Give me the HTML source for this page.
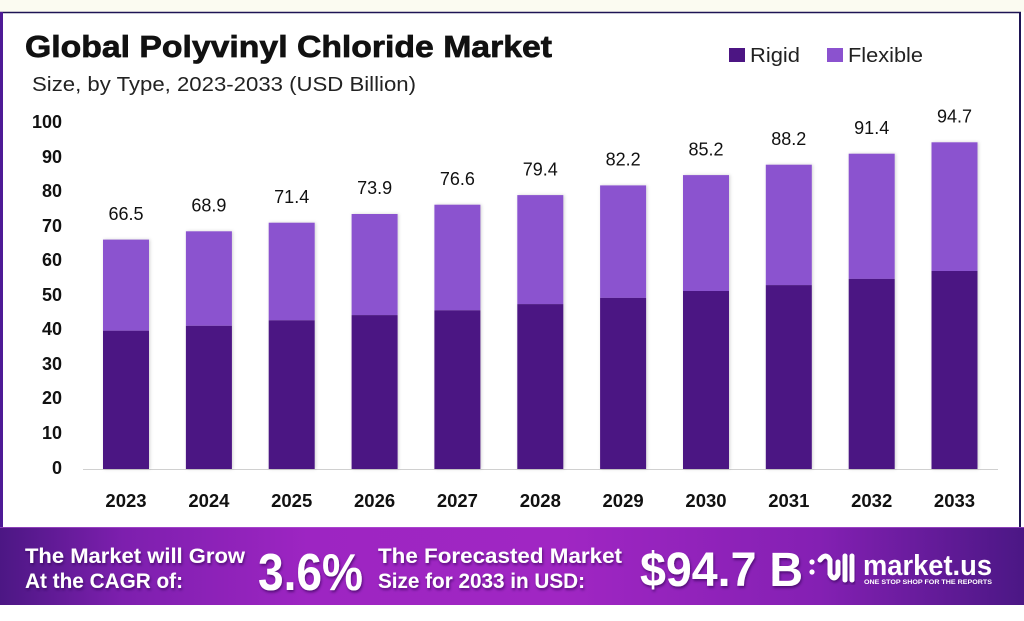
<!DOCTYPE html>
<html>
<head>
<meta charset="utf-8">
<style>
html,body{margin:0;padding:0;background:#fff;}
svg{display:block;}
text{font-family:"Liberation Sans",Arial,sans-serif;}
</style>
</head>
<body>
<svg width="1024" height="621" viewBox="0 0 1024 621" xmlns="http://www.w3.org/2000/svg">
<defs>
<linearGradient id="ban" x1="0" y1="0" x2="1" y2="0">
<stop offset="0" stop-color="#4c1784"/>
<stop offset="0.12" stop-color="#7d1fae"/>
<stop offset="0.3" stop-color="#9d25c2"/>
<stop offset="0.55" stop-color="#a026c3"/>
<stop offset="0.8" stop-color="#8420b3"/>
<stop offset="1" stop-color="#4b1785"/>
</linearGradient>
<filter id="sh" x="-10%" y="-10%" width="120%" height="130%">
<feDropShadow dx="1" dy="2" stdDeviation="1.2" flood-color="#2a0650" flood-opacity="0.6"/>
</filter>
<filter id="bs" x="-20%" y="-5%" width="140%" height="110%">
<feDropShadow dx="1" dy="0" stdDeviation="1.5" flood-color="#000" flood-opacity="0.18"/>
</filter>
</defs>

<rect x="0" y="0" width="1024" height="621" fill="#ffffff"/>
<rect x="0" y="0" width="1024" height="12" fill="#fbfbf1"/>
<line x1="0" y1="12.5" x2="1021" y2="12.5" stroke="#1e1454" stroke-width="1.5"/>
<rect x="0" y="12" width="3" height="516" fill="#4e1a96"/>
<rect x="1019" y="12" width="2" height="516" fill="#1e1454"/>

<text x="25" y="57" font-size="31" font-weight="bold" fill="#111" stroke="#111" stroke-width="0.7" textLength="527" lengthAdjust="spacingAndGlyphs">Global Polyvinyl Chloride Market</text>
<text x="32" y="91" font-size="20" fill="#222" textLength="384" lengthAdjust="spacingAndGlyphs">Size, by Type, 2023-2033 (USD Billion)</text>

<rect x="729" y="48" width="16" height="14" fill="#4c1583"/>
<text x="750" y="62" font-size="20" fill="#222" textLength="50" lengthAdjust="spacingAndGlyphs">Rigid</text>
<rect x="827" y="48" width="16" height="14" fill="#8b52cf"/>
<text x="848" y="62" font-size="20" fill="#222" textLength="75" lengthAdjust="spacingAndGlyphs">Flexible</text>

<g font-size="18" font-weight="bold" fill="#111" text-anchor="end">
<text x="62" y="128">100</text>
<text x="62" y="163">90</text>
<text x="62" y="197">80</text>
<text x="62" y="232">70</text>
<text x="62" y="266">60</text>
<text x="62" y="301">50</text>
<text x="62" y="335">40</text>
<text x="62" y="370">30</text>
<text x="62" y="404">20</text>
<text x="62" y="439">10</text>
<text x="62" y="474">0</text>
</g>

<line x1="83" y1="469.5" x2="998" y2="469.5" stroke="#d0d0d0" stroke-width="1"/>

<g filter="url(#bs)">
<rect x="103" y="239.6" width="46" height="91.1" fill="#8b52cf"/><rect x="103" y="330.7" width="46" height="138.3" fill="#4c1583"/>
<rect x="185.9" y="231.3" width="46" height="94.5" fill="#8b52cf"/><rect x="185.9" y="325.8" width="46" height="143.2" fill="#4c1583"/>
<rect x="268.7" y="222.7" width="46" height="97.6" fill="#8b52cf"/><rect x="268.7" y="320.3" width="46" height="148.7" fill="#4c1583"/>
<rect x="351.6" y="214.0" width="46" height="101.1" fill="#8b52cf"/><rect x="351.6" y="315.1" width="46" height="153.9" fill="#4c1583"/>
<rect x="434.4" y="204.7" width="46" height="105.6" fill="#8b52cf"/><rect x="434.4" y="310.3" width="46" height="158.7" fill="#4c1583"/>
<rect x="517.3" y="195.1" width="46" height="109.0" fill="#8b52cf"/><rect x="517.3" y="304.1" width="46" height="164.9" fill="#4c1583"/>
<rect x="600.1" y="185.4" width="46" height="112.5" fill="#8b52cf"/><rect x="600.1" y="297.9" width="46" height="171.1" fill="#4c1583"/>
<rect x="683.0" y="175.1" width="46" height="115.9" fill="#8b52cf"/><rect x="683.0" y="291.0" width="46" height="178.0" fill="#4c1583"/>
<rect x="765.8" y="164.7" width="46" height="120.4" fill="#8b52cf"/><rect x="765.8" y="285.1" width="46" height="183.9" fill="#4c1583"/>
<rect x="848.7" y="153.7" width="46" height="125.2" fill="#8b52cf"/><rect x="848.7" y="278.9" width="46" height="190.1" fill="#4c1583"/>
<rect x="931.5" y="142.3" width="46" height="128.7" fill="#8b52cf"/><rect x="931.5" y="271.0" width="46" height="198.0" fill="#4c1583"/>
</g>

<g font-size="18" fill="#111" text-anchor="middle">
<text x="126" y="220">66.5</text>
<text x="208.9" y="211.5">68.9</text>
<text x="291.7" y="203">71.4</text>
<text x="374.6" y="194">73.9</text>
<text x="457.4" y="185">76.6</text>
<text x="540.3" y="175.5">79.4</text>
<text x="623.1" y="165.5">82.2</text>
<text x="706" y="155.5">85.2</text>
<text x="788.8" y="145">88.2</text>
<text x="871.7" y="134">91.4</text>
<text x="954.5" y="122.5">94.7</text>
</g>

<g font-size="18.5" font-weight="bold" fill="#111" text-anchor="middle">
<text x="126" y="507">2023</text>
<text x="208.9" y="507">2024</text>
<text x="291.7" y="507">2025</text>
<text x="374.6" y="507">2026</text>
<text x="457.4" y="507">2027</text>
<text x="540.3" y="507">2028</text>
<text x="623.1" y="507">2029</text>
<text x="706" y="507">2030</text>
<text x="788.8" y="507">2031</text>
<text x="871.7" y="507">2032</text>
<text x="954.5" y="507">2033</text>
</g>

<rect x="0" y="527" width="1024" height="78" fill="url(#ban)"/>
<line x1="0" y1="527.5" x2="1024" y2="527.5" stroke="#b35ad6" stroke-width="1" opacity="0.6"/>
<g fill="#ffffff" font-weight="bold" filter="url(#sh)">
<text x="25" y="563" font-size="21" textLength="220" lengthAdjust="spacingAndGlyphs">The Market will Grow</text>
<text x="25" y="588" font-size="21" textLength="158" lengthAdjust="spacingAndGlyphs">At the CAGR of:</text>
<text x="258" y="590" font-size="52" textLength="105" lengthAdjust="spacingAndGlyphs">3.6%</text>
<text x="378" y="563" font-size="21" textLength="244" lengthAdjust="spacingAndGlyphs">The Forecasted Market</text>
<text x="378" y="588" font-size="21" textLength="207" lengthAdjust="spacingAndGlyphs">Size for 2033 in USD:</text>
<text x="640" y="586" font-size="48" textLength="163" lengthAdjust="spacingAndGlyphs">$94.7 B</text>
</g>

<g stroke="#ffffff" stroke-width="5" fill="none" stroke-linecap="round" filter="url(#sh)">
<path d="M820 560 Q826 552 830 560 L830 574 Q834 582 838 574 L838 562"/>
<line x1="845" y1="556" x2="845" y2="580"/>
<line x1="852" y1="556" x2="852" y2="580"/>
</g>
<circle cx="812" cy="562" r="2.6" fill="#fff"/>
<circle cx="812" cy="572" r="2.6" fill="#fff"/>
<text x="863" y="575" font-size="29" font-weight="bold" fill="#fff" textLength="129" lengthAdjust="spacingAndGlyphs">market.us</text>
<text x="864" y="584" font-size="6" font-weight="bold" fill="#fff" textLength="128" lengthAdjust="spacingAndGlyphs">ONE STOP SHOP FOR THE REPORTS</text>
</svg>
</body>
</html>
